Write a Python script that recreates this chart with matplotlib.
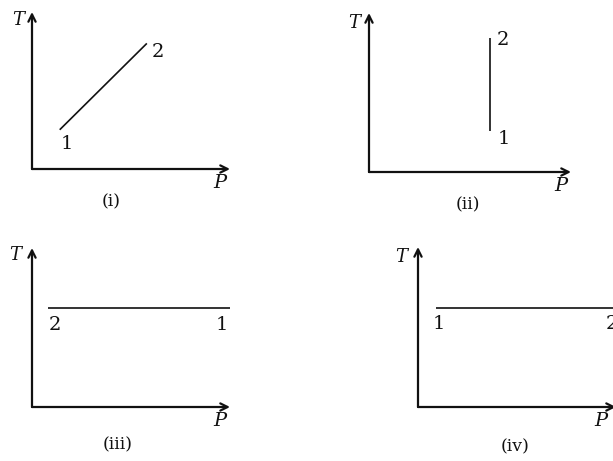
import matplotlib
matplotlib.use("Agg")
import matplotlib.pyplot as plt

# Process paths on T-P diagrams (state 1 first, state 2 second)
captions = ["(i)", "(ii)", "(iii)", "(iv)"]
state_labels = ["1", "2"]
p_i = [1.4, 5.8]
t_i = [2.5, 8.0]
p_ii = [6.0, 6.0]
t_ii = [2.6, 8.4]
p_iii = [10.0, 0.8]
t_iii = [6.2, 6.2]
p_iv = [0.9, 10.0]
t_iv = [6.2, 6.2]

plt.rcParams["font.family"] = ["DejaVu Serif"]

W, H = 613, 461
fig = plt.figure(figsize=(W / 100, H / 100), dpi=100)
fig.patch.set_facecolor("white")

# pixel boxes: origin x, origin y, x tip, y tip
boxes = [(32, 169, 230, 12), (369, 172, 571, 13), (32, 407, 230, 248), (418, 407, 616, 247)]
paths = [(p_i, t_i), (p_ii, t_ii), (p_iii, t_iii), (p_iv, t_iv)]
# label offsets in points for state 1 and 2
offsets = [
    [(5, -10), (8, -6)],
    [(10, -6), (9, -1)],
    [(-6, -12), (5, -12)],
    [(2, -12), (-3, -12)],
]
t_off = [(-10, -6), (-11, -7), (-12, -5), (-12, -7)]
p_off = [(-7, -10), (-7, -10), (-7, -10), (-11, -10)]
cap_pos = [(0.40, -24), (0.49, -24), (0.43, -27), (0.49, -29)]

for k, (x0, y0, x1, y1) in enumerate(boxes):
    ax = fig.add_axes([x0 / W, 1 - y0 / H, (x1 - x0) / W, (y0 - y1) / H])
    ax.set_xlim(0, 10)
    ax.set_ylim(0, 10)
    ax.axis("off")
    ax.patch.set_alpha(0)

    # axes arrows
    ax.annotate("", xy=(1, 0), xytext=(0, 0), xycoords="axes fraction",
                arrowprops=dict(arrowstyle="->", lw=1.6, color="#111111",
                                shrinkA=0, shrinkB=0, mutation_scale=13),
                annotation_clip=False)
    ax.annotate("", xy=(0, 1), xytext=(0, 0), xycoords="axes fraction",
                arrowprops=dict(arrowstyle="->", lw=1.6, color="#111111",
                                shrinkA=0, shrinkB=0, mutation_scale=13),
                annotation_clip=False)
    ax.annotate("T", xy=(0, 1), xycoords="axes fraction", xytext=t_off[k],
                textcoords="offset points", ha="center", va="center",
                fontsize=13, style="italic", color="#111111", annotation_clip=False)
    ax.annotate("P", xy=(1, 0), xycoords="axes fraction", xytext=p_off[k],
                textcoords="offset points", ha="center", va="center",
                fontsize=14, style="italic", color="#111111", annotation_clip=False)
    ax.annotate(captions[k], xy=(cap_pos[k][0], 0), xycoords="axes fraction",
                xytext=(0, cap_pos[k][1]), textcoords="offset points",
                ha="center", va="center", fontsize=12.5, color="#111111",
                annotation_clip=False)

    px, ty = paths[k]
    ax.plot(px, ty, color="#111111", lw=1.2, solid_capstyle="butt", clip_on=False)
    for j, lab in enumerate(state_labels):
        ax.annotate(lab, xy=(px[j], ty[j]), xytext=offsets[k][j],
                    textcoords="offset points", ha="center", va="center",
                    fontsize=14, color="#111111", annotation_clip=False)

fig.savefig("out.png", dpi=100, facecolor="white")
